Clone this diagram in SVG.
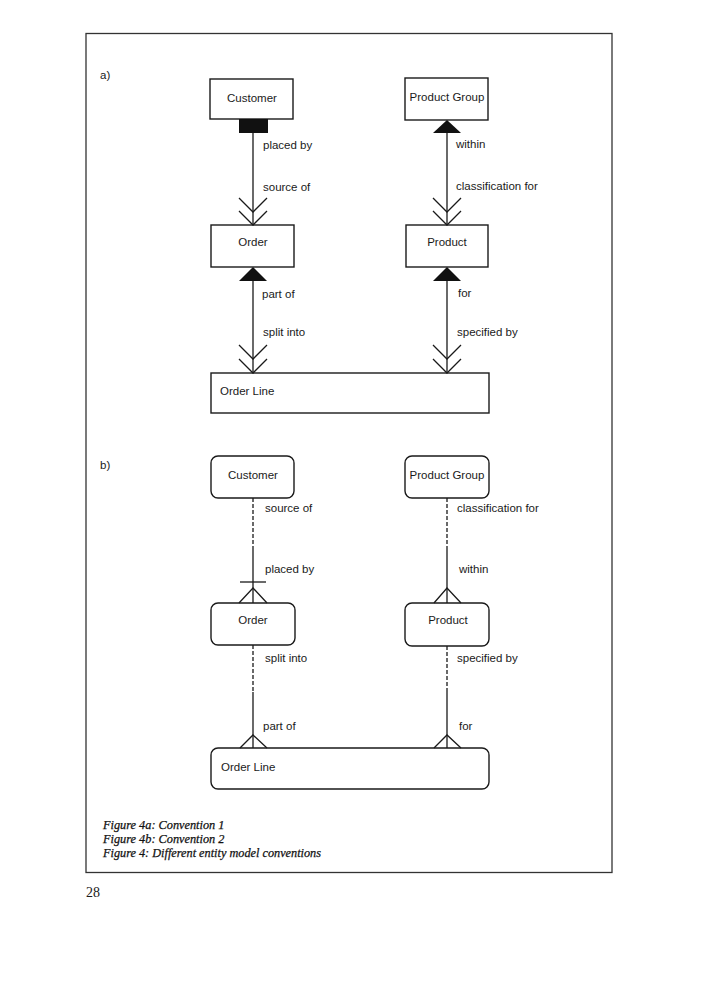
<svg xmlns="http://www.w3.org/2000/svg" width="702" height="1000" viewBox="0 0 702 1000">
<style>
.box{fill:#fff;stroke:#1a1a1a;stroke-width:1.4}
.ln{fill:none;stroke:#1a1a1a;stroke-width:1.3}
.ds{fill:none;stroke:#1a1a1a;stroke-width:1.3;stroke-dasharray:4 2}
.t{font-family:"Liberation Sans",Arial,sans-serif;font-size:11.5px;fill:#1a1a1a}
.c{text-anchor:middle}
.cap{font-family:"Liberation Serif","Times New Roman",serif;font-style:italic;font-size:12.3px;fill:#111;stroke:#111;stroke-width:0.25}
</style>
<rect x="86" y="33.5" width="526" height="839" fill="none" stroke="#333" stroke-width="1.3"/>
<text class="t" x="100" y="79">a)</text>
<text class="t" x="100" y="469">b)</text>

<g id="a-customer"><rect class="box" x="210" y="79" width="83" height="40"/><text class="t c" x="252" y="101.5">Customer</text></g>
<g id="a-productgroup"><rect class="box" x="405" y="78" width="83" height="42"/><text class="t c" x="447" y="101">Product Group</text></g>
<g id="a-order"><rect class="box" x="211" y="225" width="83" height="42"/><text class="t c" x="253" y="246">Order</text></g>
<g id="a-product"><rect class="box" x="406" y="225" width="82" height="42"/><text class="t c" x="447" y="246">Product</text></g>
<g id="a-orderline"><rect class="box" x="211" y="373" width="278" height="40"/><text class="t" x="220" y="395">Order Line</text></g>

<g id="b-customer"><rect class="box" x="211" y="456" width="83" height="42" rx="7"/><text class="t c" x="253" y="479">Customer</text></g>
<g id="b-productgroup"><rect class="box" x="405" y="456" width="84" height="42" rx="7"/><text class="t c" x="447" y="479">Product Group</text></g>
<g id="b-order"><rect class="box" x="211" y="603" width="84" height="42" rx="7"/><text class="t c" x="253" y="624">Order</text></g>
<g id="b-product"><rect class="box" x="405" y="603" width="84" height="43" rx="7"/><text class="t c" x="448" y="624">Product</text></g>
<g id="b-orderline"><rect class="box" x="211" y="748" width="278" height="41" rx="7"/><text class="t" x="221" y="771">Order Line</text></g>

<g id="connectors">
<rect x="239" y="119" width="29" height="14" fill="#111"/>
<line class="ln" x1="253" y1="133" x2="253" y2="225"/>
<polyline class="ln" points="239,198 253,212 267,198"/>
<polyline class="ln" points="239,211 253,225 267,211"/>
<polygon points="447,120 433,133 461,133" fill="#111"/>
<line class="ln" x1="447" y1="133" x2="447" y2="225"/>
<polyline class="ln" points="433,198 447,212 461,198"/>
<polyline class="ln" points="433,211 447,225 461,211"/>
<polygon points="253,267 239,281 267,281" fill="#111"/>
<line class="ln" x1="253" y1="281" x2="253" y2="373"/>
<polyline class="ln" points="239,345 253,359 267,345"/>
<polyline class="ln" points="239,359 253,373 267,359"/>
<polygon points="447,267 433,281 461,281" fill="#111"/>
<line class="ln" x1="447" y1="281" x2="447" y2="373"/>
<polyline class="ln" points="433,345 447,359 461,345"/>
<polyline class="ln" points="433,359 447,373 461,359"/>

<line class="ds" x1="253" y1="498" x2="253" y2="546"/>
<line class="ln" x1="253" y1="546" x2="253" y2="603"/>
<line class="ln" x1="240" y1="582" x2="266" y2="582"/>
<polyline class="ln" points="239,603 253,588 267,603"/>
<line class="ds" x1="447" y1="498" x2="447" y2="546"/>
<line class="ln" x1="447" y1="546" x2="447" y2="603"/>
<polyline class="ln" points="434,603 447,588 461,603"/>
<line class="ds" x1="253" y1="645" x2="253" y2="692"/>
<line class="ln" x1="253" y1="692" x2="253" y2="748"/>
<polyline class="ln" points="240,748 253,735 267,748"/>
<line class="ds" x1="447" y1="646" x2="447" y2="692"/>
<line class="ln" x1="447" y1="692" x2="447" y2="748"/>
<polyline class="ln" points="434,748 447,735 461,748"/>

<text class="t" x="263" y="149">placed by</text>
<text class="t" x="263" y="191">source of</text>
<text class="t" x="456" y="148">within</text>
<text class="t" x="456" y="190">classification for</text>
<text class="t" x="262" y="298">part of</text>
<text class="t" x="263" y="336">split into</text>
<text class="t" x="458" y="297">for</text>
<text class="t" x="457" y="336">specified by</text>
<text class="t" x="265" y="512">source of</text>
<text class="t" x="265" y="573">placed by</text>
<text class="t" x="457" y="512">classification for</text>
<text class="t" x="459" y="573">within</text>
<text class="t" x="265" y="662">split into</text>
<text class="t" x="457" y="662">specified by</text>
<text class="t" x="263" y="730">part of</text>
<text class="t" x="459" y="730">for</text>
</g>

<text class="cap" x="103" y="829">Figure 4a: Convention 1</text>
<text class="cap" x="103" y="843">Figure 4b: Convention 2</text>
<text class="cap" x="103" y="857" textLength="218" lengthAdjust="spacingAndGlyphs">Figure 4: Different entity model conventions</text>
<text x="86" y="897" font-family="'Liberation Serif','Times New Roman',serif" font-size="14" fill="#1a1a1a">28</text>
</svg>
